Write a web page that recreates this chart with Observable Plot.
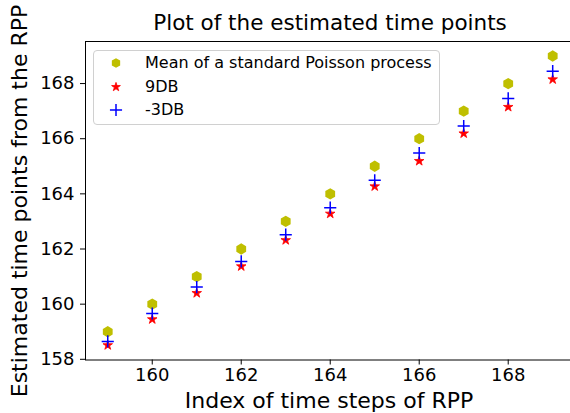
<!DOCTYPE html>
<html>
<head>
<meta charset="utf-8">
<script src="https://cdn.jsdelivr.net/npm/d3@7"></script>
<script src="https://cdn.jsdelivr.net/npm/@observablehq/plot@0.6"></script>
<style>
  html, body { margin: 0; padding: 0; background: #fff; }
  #wrap { position: relative; width: 570px; height: 413px; overflow: hidden; font-family: "DejaVu Sans", sans-serif; }
  .ov { position: absolute; white-space: nowrap; color: #000; line-height: 1; }
  #legend { position: absolute; left: 93px; top: 50px; width: 347px; height: 75px; border: 1px solid #d0d0d0; border-radius: 4px; background: rgba(255,255,255,0.8); box-sizing: border-box; }
  .lrow { position: absolute; left: 0; height: 20px; font-size: 16px; line-height: 20px; white-space: nowrap; }
  .lrow svg { position: absolute; left: 14px; top: 2px; }
  .lrow span { position: absolute; left: 51px; top: 0; white-space: nowrap; }
</style>
</head>
<body>
<div id="wrap"></div>
<script>
const steps = [159, 160, 161, 162, 163, 164, 165, 166, 167, 168, 169];
const poissonMean = [159, 160, 161, 162, 163, 164, 165, 166, 167, 168, 169];
const series9DB = [158.51, 159.45, 160.40, 161.37, 162.32, 163.28, 164.27, 165.19, 166.19, 167.15, 168.15];
const seriesNeg3DB = [158.65, 159.66, 160.62, 161.55, 162.52, 163.50, 164.49, 165.48, 166.46, 167.46, 168.45];
const xTicks = [160, 162, 164, 166, 168];
const yTicks = [158, 160, 162, 164, 166, 168];
const seriesNames = ["Mean of a standard Poisson process", "9DB", "-3DB"];
const titleText = "Plot of the estimated time points";
const xLabel = "Index of time steps of RPP";
const yLabel = "Estimated time points from the RPP";

const rows = (vals) => steps.map((s, i) => ({x: s, y: vals[i]}));

const W = 570, H = 413;
const mL = 85, mR = 0, mT = 41, mB = 53.5;

const chart = Plot.plot({
  width: W,
  height: H,
  marginLeft: mL,
  marginRight: mR,
  marginTop: mT,
  marginBottom: mB,
  style: {fontFamily: "DejaVu Sans, sans-serif", fontSize: "18px", background: "#fff", color: "#000", overflow: "visible"},
  x: {domain: [158.5, 169.4], ticks: xTicks, label: null},
  y: {domain: [157.975, 169.525], ticks: yTicks, label: null},
  marks: [
    Plot.frame({stroke: "#000", strokeWidth: 1}),
    Plot.axisX({ticks: xTicks, tickSize: 5, tickPadding: 3, fontSize: 18, label: null, stroke: "#000"}),
    Plot.axisY({ticks: yTicks, tickSize: 5, tickPadding: 6, fontSize: 18, label: null, stroke: "#000"}),
    Plot.dot(rows(poissonMean), {x: "x", y: "y", symbol: "hexagon", r: 4.9, fill: "#bfbf00", stroke: "none"}),
    Plot.dot(rows(series9DB), {x: "x", y: "y", symbol: "star", r: 3.0, fill: "#ff0000", stroke: "#ff0000", strokeWidth: 0.8}),
    Plot.dot(rows(seriesNeg3DB), {x: "x", y: "y", symbol: "plus", r: 4.0, stroke: "#0000ff", strokeWidth: 1.5, fill: "none"})
  ]
});

const wrap = document.getElementById("wrap");
wrap.appendChild(chart);

function addText(txt, css) {
  const d = document.createElement("div");
  d.className = "ov";
  d.textContent = txt;
  Object.assign(d.style, css);
  wrap.appendChild(d);
  return d;
}
// title
addText(titleText, {left: "85px", width: "490px", textAlign: "center", top: "12px", fontSize: "21.5px"});
// x label
addText(xLabel, {left: "85px", width: "488px", textAlign: "center", top: "390px", fontSize: "22px"});
// y label (rotated)
addText(yLabel, {left: "20px", top: "201px", fontSize: "22px", transform: "translate(-50%, -50%) rotate(-90deg)"});

// legend
const legend = document.createElement("div");
legend.id = "legend";
wrap.appendChild(legend);
const symDefs = [
  {fill: "#bfbf00", stroke: "none", size: 0},
  {sym: d3.symbolStar, fill: "#ff0000", stroke: "#ff0000", size: 24},
  {sym: d3.symbolPlus, fill: "none", stroke: "#0000ff", size: 50}
];
seriesNames.forEach((name, i) => {
  const row = document.createElement("div");
  row.className = "lrow";
  row.style.top = (2 + i * 23.5) + "px";
  const svg = d3.create("svg").attr("width", 16).attr("height", 16);
  const def = symDefs[i];
  let path;
  if (i === 0) {
    const r = 4.8;
    const pts = d3.range(6).map(k => {
      const a = Math.PI / 2 + k * Math.PI / 3;
      return [r * Math.cos(a), r * Math.sin(a)];
    });
    path = "M" + pts.map(p => p.join(",")).join("L") + "Z";
  } else {
    path = d3.symbol(def.sym, def.size)();
  }
  svg.append("path").attr("transform", "translate(8,8)").attr("d", path)
    .attr("fill", def.fill).attr("stroke", def.stroke).attr("stroke-width", i === 2 ? 1.5 : 0.8);
  row.appendChild(svg.node());
  const sp = document.createElement("span");
  sp.textContent = name;
  row.appendChild(sp);
  legend.appendChild(row);
});
</script>
</body>
</html>
